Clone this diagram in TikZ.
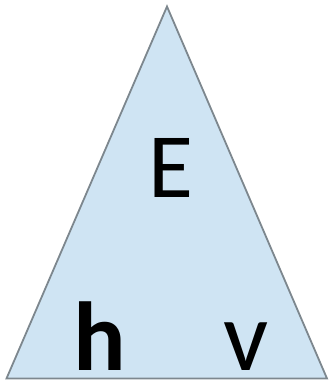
\documentclass[tikz,border=0pt]{standalone}
\usepackage{fontspec}
\setmainfont{Carlito}
\definecolor{trifill}{RGB}{207,228,243}
\definecolor{triline}{RGB}{125,135,142}
\begin{document}
\begin{tikzpicture}[x=1pt,y=-1pt,
  lbl/.style={inner sep=0pt,anchor=base,text=black}]
\useasboundingbox (0,0) rectangle (329,383);
\coordinate (apex) at (167,6.5);
\coordinate (bl) at (6.5,378.5);
\coordinate (br) at (327,378.5);
\filldraw[fill=trifill,draw=triline,line width=1.8pt,line join=miter] (apex) -- (br) -- (bl) -- cycle;
\node[lbl,font=\fontsize{92}{92}\selectfont] (E) at (171,197) {E};
\node[lbl,font=\fontsize{98}{98}\selectfont\bfseries] (h) at (100,370) {h};
\node[lbl,font=\fontsize{100}{100}\selectfont] (v) at (246.5,370) {v};
\end{tikzpicture}
\end{document}
